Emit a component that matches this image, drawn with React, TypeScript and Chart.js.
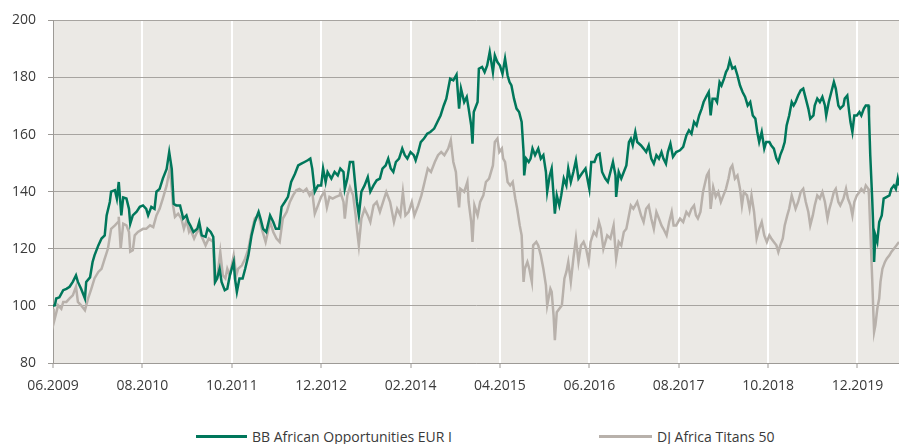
import React, { useEffect, useRef } from "react";
import { Chart, registerables } from "chart.js";

Chart.register(...registerables);

const tickMonths = [0, 14, 28, 42, 56, 70, 84, 98, 112, 126];
const tickLabels = ["06.2009", "08.2010", "10.2011", "12.2012", "02.2014", "04.2015", "06.2016", "08.2017", "10.2018", "12.2019"];
const yTicks = [80, 100, 120, 140, 160, 180, 200];
const seriesNames = ["BB African Opportunities EUR I", "DJ Africa Titans 50"];

// months since 06.2009
const fundMonths = [
  0, 0.3, 0.5, 1.0, 1.6, 2.1, 2.6, 3.1, 3.6, 3.9,
  4.4, 5.0, 5.2, 5.8, 6.2, 6.5, 7.1, 7.6, 8.1, 8.4,
  8.9, 9.1, 9.7, 10.0, 10.3, 10.7, 11.0, 11.5, 11.9, 12.1,
  12.5, 13.1, 13.6, 14.1, 14.6, 14.9, 15.4, 15.9, 16.2, 16.7,
  17.2, 17.8, 18.2, 18.6, 18.9, 19.3, 19.9, 20.4, 20.9, 21.2,
  21.5, 22.0, 22.6, 22.9, 23.3, 23.9, 24.2, 24.7, 25.1, 25.3,
  25.4, 25.7, 26.1, 26.4, 26.9, 27.3, 27.7, 28.3, 28.5, 28.8,
  29.2, 29.7, 30.1, 30.6, 31.1, 31.6, 32.2, 32.5, 32.9, 33.4,
  34.0, 34.5, 34.9, 35.4, 35.8, 36.3, 36.8, 37.3, 37.9, 38.4,
  38.9, 39.4, 39.9, 40.3, 40.6, 41.0, 41.5, 42.0, 42.3, 42.7,
  43.0, 43.6, 44.1, 44.6, 45.0,
  45.5, 45.7, 46.1, 46.5, 47.0, 47.4, 47.6, 47.9, 48.3, 48.8,
  49.3, 49.7, 50.2, 50.7, 51.2, 51.6, 52.1, 52.5, 52.9, 53.3,
  53.7, 54.2, 54.7, 55.1, 55.5, 56.0, 56.5, 56.8, 57.2, 57.6,
  58.1, 58.6, 59.1, 59.7, 60.2, 60.7, 61.2, 61.6, 62.2, 62.7,
  63.2, 63.6, 63.9, 64.4, 64.8, 65.1, 65.5, 65.7, 65.9, 66.5,
  66.7, 67.2, 67.6, 68.0, 68.4,
  68.9, 69.2, 69.6, 70.0, 70.4, 70.8, 71.2, 71.5, 71.8, 72.2,
  72.6, 73.0, 73.4, 73.7, 73.8, 74.1, 74.5, 74.8, 75.1, 75.5,
  76.0, 76.4, 76.8, 77.2, 77.4, 77.8, 78.1, 78.4, 78.6, 78.9,
  79.3, 79.6, 80.0, 80.4, 80.7, 81.1, 81.5, 81.9, 82.3, 82.8,
  83.4, 83.6, 84.0, 84.3, 84.8, 85.2, 85.6, 86.0, 86.5, 86.9,
  87.3, 87.7, 88.1, 88.2, 88.6, 89.0, 89.4, 89.8, 90.2, 90.5,
  90.8, 91.2, 91.5,
  92.1, 92.5, 92.9, 93.3, 93.7, 94.1, 94.5, 94.9, 95.3, 95.6,
  96.0, 96.3, 96.7, 97.1, 97.6, 98.2, 98.7, 99.2, 99.6, 100.0,
  100.4, 100.8, 101.2, 101.6, 101.9, 102.4, 102.7, 103.0, 103.3, 103.7,
  104.0, 104.4, 104.7, 105.1, 105.4, 105.7, 106.0, 106.4, 106.8, 107.2,
  107.6, 108.0, 108.4, 108.8, 109.2, 109.6, 110.0, 110.3, 110.6, 111.0,
  111.4, 111.7,
  112.2, 112.5, 112.9, 113.3, 113.6, 113.9, 114.3, 114.6, 114.9, 115.3,
  115.7, 116.0, 116.3, 116.7, 117.1, 117.5, 117.9, 118.3, 118.6, 119.1,
  119.3, 119.7, 120.1, 120.5, 120.9, 121.1, 121.5, 121.9, 122.3, 122.6,
  123.0, 123.3, 123.8, 124.0, 124.4, 124.7, 124.9, 125.2, 125.5, 125.9,
  126.3, 126.6, 127.0, 127.3, 127.7, 127.8, 128.0, 128.3, 128.5, 128.6,
  128.8, 129.1, 129.4, 129.8, 130.1, 130.6, 131.0, 131.3, 131.7, 132.0,
  132.3, 132.5,
];

const fundValues = [
  100, 100.2, 102.6, 103, 105.5, 106, 106.7, 108.4, 110.7, 108.4,
  106, 102.6, 108.4, 110, 115.4, 117.7, 121.2, 123.6, 124.7, 131.7,
  136.4, 140, 140.5, 137.6, 143.4, 131.7, 138, 137.6, 134, 128.8,
  131.7, 133, 134.7, 135.2, 134, 131.7, 134.7, 134, 140, 141,
  144.6, 148, 153.9, 148, 135.8, 135.2, 135.2, 130.6, 131.7, 129.4,
  128.2, 125.9, 127, 129.4, 124.7, 124.2, 127, 125.9, 124.2, 114.2,
  108.4, 109.6, 113, 108.4, 105.5, 106, 110.7, 115.4, 109.6, 104.9,
  109.6, 109.6, 113, 117.7, 124.7, 129.4, 132.9, 130.6, 127, 125.9,
  131.7, 129.4, 127, 127, 134.7, 136.4, 138.2, 143.4, 146.3, 149.2,
  149.8, 150.4, 151, 151.6, 148.1, 140, 142.2, 142.2, 148.1, 143.4,
  146.9, 144.6, 146.9, 145.7, 148.1,
  146.9, 141, 144.6, 150.4, 150.4, 141, 136.4, 131.7, 140, 142.2,
  145.1, 140, 142.2, 144, 144.6, 148.1, 149.2, 151.6, 148.1, 146.9,
  150.4, 151.6, 155.1, 152.8, 151.6, 153.9, 152.8, 151, 153.9, 157.4,
  158.6, 160.3, 160.9, 162.1, 164.4, 166.7, 170.2, 172.6, 179.6, 179,
  181, 169.1, 176.1, 171.4, 173.2, 169.1, 163.2, 156.8, 167.9, 171.4,
  183.1, 183.7, 181.9, 184.2, 188.9,
  181.9, 187.7, 185.4, 184.2, 181.3, 186.6, 180.7, 178.4, 177.2, 172.6,
  169.1, 167.9, 164.4, 153.9, 145.7, 151.6, 150.4, 151.6, 155.1, 152.8,
  155.1, 151.6, 152.8, 146.9, 140, 145.7, 148.1, 138.7, 132.3, 138.7,
  135.2, 138.7, 144.6, 142.2, 148.1, 143.4, 146.9, 151, 144.6, 146.3,
  148.1, 145.7, 141, 150.4, 150.4, 152.8, 153.3, 146.9, 144.6, 143.4,
  146.9, 150.4, 145.7, 138.2, 146.9, 144.6, 146.9, 149.2, 157.4, 158.6,
  156.3, 160.9, 157.4,
  156.2, 155.1, 153.9, 156.2, 151.6, 149.8, 152.8, 151.6, 153.9, 151.6,
  149.8, 153.9, 156.8, 152.2, 153.9, 154.5, 155.7, 159.7, 161.5, 160.3,
  164.4, 163.2, 166.7, 169.1, 171.4, 173.7, 174.9, 166.7, 172.6, 172.6,
  171.4, 178.4, 177.2, 179.6, 181.9, 183.1, 186, 183.1, 183.7, 180.7,
  177.2, 174.9, 173.2, 170.2, 171.4, 166.7, 165.6, 160.9, 157.4, 160.9,
  155.1, 157.4,
  157.4, 156.2, 155.1, 151.6, 150.4, 152.8, 155.1, 157.4, 163.2, 166.7,
  171.4, 170.2, 171.4, 173.7, 175.5, 176.1, 172.6, 169.1, 165.6, 166.7,
  170.2, 172.6, 171.4, 173.2, 170.2, 166.7, 171.4, 174.9, 178.4, 176.1,
  170.2, 169.1, 170.2, 172.6, 173.7, 167.9, 164.4, 160.9, 166.7, 166.7,
  167.9, 166.7, 169.1, 170.2, 170.2, 166.7, 152.7, 137.6, 125.9, 115.4,
  124.7, 122.4, 129.4, 131.7, 137.6, 138.2, 138.7, 141, 142.2, 141,
  144.6, 142.2,
];

const indexMonths = [
  0, 0.1, 0.8, 1.3, 1.6, 2.1, 2.6, 3.1, 3.6, 3.9,
  4.4, 5.0, 5.5, 6.0, 6.5, 7.1, 7.6, 8.1, 8.6, 9.1,
  9.7, 10.2, 10.3, 10.6, 11.0, 11.5, 11.9, 12.1, 12.5, 12.8,
  13.3, 14.1, 14.6, 15.2, 15.7, 16.2, 16.7, 17.2, 17.8, 18.3,
  18.6, 18.8, 19.1, 19.6, 20.1, 20.5, 20.9, 21.3,
  21.5, 22.1, 22.8, 23.3, 23.9, 24.4, 25.1, 25.3, 25.7, 26.2,
  26.6, 27.0, 27.3, 27.7, 28.3, 28.7, 29.0, 29.6, 30.1, 30.6,
  31.1, 31.6, 32.2, 32.7, 33.3, 34.0, 34.5, 35.0, 35.5, 36.0,
  36.6, 37.1, 37.6, 38.1, 38.6, 39.2, 39.7, 40.2, 40.6, 41.0,
  41.5, 42.0, 42.5, 42.9, 43.3, 43.8, 44.3, 44.9,
  45.0, 45.5, 45.7, 46.1, 46.5, 47.0, 47.4, 47.6, 47.9, 48.3,
  48.8, 49.3, 49.7, 50.2, 50.7, 51.2, 51.7, 52.2, 52.8, 53.4,
  53.9, 54.4, 54.8, 55.2, 55.7, 56.2, 56.6, 57.2, 57.7, 58.2,
  58.7, 59.2, 59.8, 60.3, 60.8, 61.3, 61.9, 62.3, 62.7, 63.1,
  63.3, 63.6, 63.8, 64.4, 64.9, 65.1, 65.5, 65.7, 66.0, 66.5,
  66.9, 67.4, 67.8, 68.3,
  68.9, 69.2, 69.6, 69.9, 70.3, 70.5, 70.8, 71.2, 71.6, 72.0,
  72.4, 72.7, 73.1, 73.4, 73.7, 73.9, 74.3, 74.6, 75.0, 75.2,
  75.7, 76.0, 76.4, 76.8, 77.2, 77.4, 77.9, 78.1, 78.4, 78.6,
  78.9, 79.3, 79.7, 80.1, 80.4, 80.7, 81.1, 81.5, 81.9, 82.3,
  82.7, 83.1, 83.5, 83.9, 84.2, 84.7, 85.1, 85.5, 85.8, 86.2,
  86.8, 87.3, 87.8, 88.2, 88.6, 89.0, 89.4, 89.8, 90.2, 90.5,
  90.9, 91.5,
  92.1, 92.5, 92.9, 93.3, 93.7, 94.1, 94.5, 94.9, 95.3, 95.6,
  96.1, 96.5, 96.9, 97.2, 97.6, 98.2, 98.7, 99.2, 99.6, 100.0,
  100.4, 100.7, 101.0, 101.4, 101.8, 102.4, 102.7, 103.0, 103.4, 103.8,
  104.2, 104.6, 105.0, 105.4, 105.8, 106.1, 106.4, 106.8, 107.2, 107.6,
  107.9, 108.2, 108.7, 109.1, 109.4, 109.8, 110.2, 110.6, 111.0, 111.4,
  111.8, 112.2, 112.5, 112.9, 113.3, 113.6, 113.9, 114.3, 114.6, 115.0,
  115.3, 115.7, 116.0, 116.3, 116.7, 117.1, 117.5, 117.9, 118.3, 118.6,
  119.0, 119.3, 119.7, 120.1, 120.5, 120.9, 121.3, 121.6, 121.9, 122.3,
  122.6, 123.0, 123.3, 123.8, 124.2, 124.5, 124.9, 125.2, 125.5, 125.9,
  126.3, 126.6, 127.0, 127.3, 127.7, 127.8, 128.0, 128.3, 128.5, 128.6,
  128.8, 129.1, 129.4, 129.6, 129.9, 130.3, 130.6, 131.0, 131.3, 131.7,
  132.1, 132.5,
];

const indexValues = [
  99, 94, 100.2, 99, 101.4, 101.4, 102.6, 103.7, 106.7, 101.4,
  100.2, 98.5, 102.6, 106, 109.6, 111.9, 113, 116.6, 120, 127,
  128.2, 129.4, 131.2, 120, 128.8, 128.2, 125.9, 119, 119.5, 124.7,
  125.9, 127, 127, 128.2, 127.6, 131.7, 134, 137.6, 142.2, 148.1,
  141, 135.2, 131.2, 132.3, 130.6, 127, 130, 126,
  127, 123.6, 127, 124.2, 121.2, 123.6, 122.4, 108.4, 109.6, 118.9,
  110.7, 109.6, 113, 110.7, 117.7, 110.7, 113, 114.2, 116.6, 120,
  125.9, 130.6, 131.7, 127, 122.4, 129.4, 125.9, 123.6, 122.4, 130.6,
  132.9, 136.4, 138.7, 140.5, 141, 140, 141, 138.7, 140, 132.3,
  135.2, 138.2, 140, 134.5, 138.2, 137.6, 138.2, 138.7,
  139.9, 136.4, 130.6, 138.7, 141.6, 138.7, 131.7, 127, 121.2, 130.6,
  134, 131.7, 129.4, 135.2, 136.4, 132.9, 136.4, 139.9, 136.4, 129.4,
  134, 131.7, 139.9, 131.7, 132.9, 136.4, 131.7, 135.2, 138.7, 143.4,
  148.1, 146.9, 150.4, 152.8, 153.9, 152.8, 155.1, 158, 150.4, 146.9,
  141, 134.5, 141, 139.9, 143.4, 136.4, 129.4, 122.4, 135.2, 131.7,
  136.4, 138.7, 143.4, 144.6,
  149.2, 157.4, 158.6, 153.9, 155.1, 151.6, 150.4, 143.4, 142.2, 143.4,
  137.6, 134, 128.2, 124.7, 108.4, 113, 115.4, 113, 108.4, 121.2,
  122.4, 121.2, 117.7, 113, 107.2, 100.2, 106, 104.9, 96.7, 88,
  97.8, 99, 100.2, 109.6, 111.9, 115.4, 108.4, 116.6, 123.6, 115.4,
  121.2, 122.4, 120, 115.4, 122.4, 125.9, 124.7, 129.4, 127, 120,
  124.7, 123.6, 128.2, 116.6, 122.4, 121.2, 125.9, 127, 131.7, 135.2,
  134, 136.4,
  131.7, 129.4, 134, 135.2, 130.6, 127, 132.9, 130.6, 128.2, 127,
  124.7, 129.4, 132.9, 128.2, 128.2, 130.6, 129.4, 132.9, 131.7, 134,
  135.2, 131.7, 130.6, 132.9, 139.9, 145.7, 146.9, 134, 141.6, 138.2,
  139.9, 136.4, 138.7, 141, 144.6, 148.1, 149.2, 144.6, 145.7, 141,
  135.2, 139.9, 138.7, 134, 138.7, 132.9, 123.6, 127, 129.4, 124.7,
  122.4, 124.7, 123.6, 122.4, 121.2, 118.9, 121.2, 123.6, 128.2, 131.7,
  134, 138.7, 136.4, 134, 136.4, 139.9, 141, 136.4, 132.9, 128.2,
  131.7, 135.2, 138.7, 137.6, 139.9, 136.4, 130.6, 134, 136.4, 139.9,
  141, 136.4, 135.2, 137.6, 141, 137.6, 135.2, 131.7, 136.4, 138.7,
  139.9, 141, 139.9, 142.2, 141, 138.7, 127, 109.6, 96.7, 90.9,
  93.2, 99, 102.6, 108.4, 113, 115.4, 116.6, 117.7, 118.9, 120,
  121.2, 122.4,
];

const GREEN = "#00775b";
const GREY = "#b8b1ab";
const FONT = "'Open Sans', 'Noto Sans', sans-serif";
const TEXT = "#3a3a3a";

const plotBg = {
  id: "plotBg",
  beforeDraw(chart: any) {
    const { ctx, chartArea } = chart;
    if (!chartArea) return;
    ctx.save();
    ctx.fillStyle = "#ebe9e5";
    ctx.fillRect(chartArea.left, chartArea.top, chartArea.right - chartArea.left, chartArea.bottom - chartArea.top);
    ctx.restore();
  },
};

export default function App() {
  const ref = useRef<HTMLCanvasElement>(null);

  useEffect(() => {
    document.body.style.margin = "0";
    const canvas = ref.current;
    if (!canvas) return;
    const fund = fundMonths.map((m, i) => ({ x: m, y: fundValues[i] }));
    const index = indexMonths.map((m, i) => ({ x: m, y: indexValues[i] }));
    const chart = new Chart(canvas, {
      type: "line",
      data: {
        datasets: [
          { label: seriesNames[0], data: fund, borderColor: GREEN, borderWidth: 2.5, pointRadius: 0, tension: 0, fill: false },
          { label: seriesNames[1], data: index, borderColor: GREY, borderWidth: 2.5, pointRadius: 0, tension: 0, fill: false },
        ],
      },
      options: {
        responsive: false,
        animation: false,
        events: [],
        layout: { padding: { top: 20, right: 0, left: 0, bottom: 0 } },
        plugins: { legend: { display: false }, tooltip: { enabled: false } },
        scales: {
          x: {
            type: "linear",
            min: 0,
            max: 132.5,
            afterBuildTicks: (s: any) => {
              s.ticks = tickMonths.map((v) => ({ value: v }));
            },
            afterFit: (s: any) => {
              s.height = 37;
            },
            ticks: {
              autoSkip: false,
              maxRotation: 0,
              padding: 10,
              color: TEXT,
              font: { family: FONT, size: 14 },
              callback: (v: any) => {
                const i = tickMonths.indexOf(Number(v));
                return i >= 0 ? tickLabels[i] : "";
              },
            },
            grid: { color: "#ffffff", lineWidth: 2, tickColor: "#9d9a96", tickLength: 5, tickWidth: 1 },
            border: { color: "#9d9a96", width: 1 },
          },
          y: {
            min: 80,
            max: 200,
            afterBuildTicks: (s: any) => {
              s.ticks = yTicks.map((v) => ({ value: v }));
            },
            afterFit: (s: any) => {
              s.width = 53;
            },
            ticks: { padding: 12, color: TEXT, font: { family: FONT, size: 14 } },
            grid: { color: "#a7a4a0", lineWidth: 1, tickColor: "#9d9a96", tickLength: 5 },
            border: { color: "#9d9a96", width: 1 },
          },
        },
      },
      plugins: [plotBg],
    });
    return () => chart.destroy();
  }, []);

  const legendText: React.CSSProperties = { fontFamily: FONT, fontSize: 14, color: TEXT, whiteSpace: "nowrap" };
  return (
    <div style={{ position: "relative", width: 899, height: 444, background: "#ffffff" }}>
      <canvas ref={ref} width={899} height={400} style={{ position: "absolute", left: 0, top: 0 }} />
      <div style={{ position: "absolute", left: 196, top: 427, height: 18, display: "flex", alignItems: "center" }}>
        <span style={{ display: "inline-block", width: 51, height: 3, background: GREEN, marginRight: 5 }} />
        <span style={legendText}>{seriesNames[0]}</span>
      </div>
      <div style={{ position: "absolute", left: 599, top: 427, height: 18, display: "flex", alignItems: "center" }}>
        <span style={{ display: "inline-block", width: 53, height: 3, background: GREY, marginRight: 5 }} />
        <span style={legendText}>{seriesNames[1]}</span>
      </div>
    </div>
  );
}
